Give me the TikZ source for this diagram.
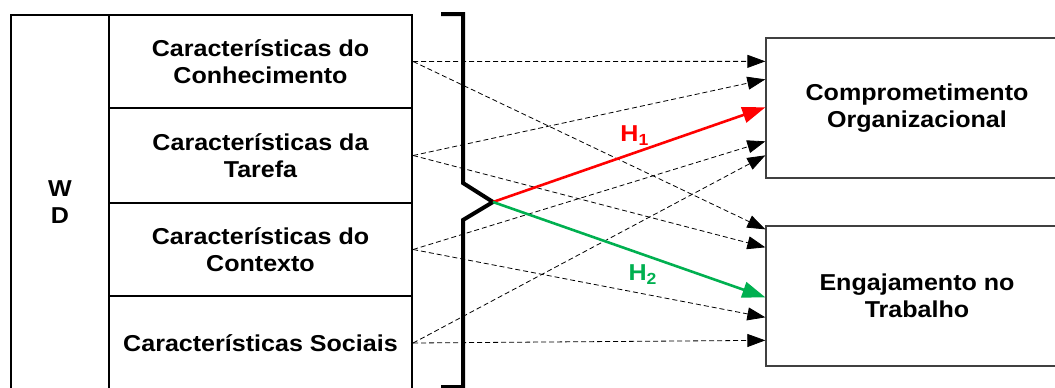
\documentclass[tikz,border=0pt]{standalone}
\usepackage{fontspec}
\setmainfont{Liberation Sans}[FakeStretch=1.09]
\usetikzlibrary{arrows.meta,calc}
\definecolor{hgreen}{RGB}{0,176,80}
\begin{document}
\begin{tikzpicture}[x=1pt,y=-1pt,
  txt/.style={font=\bfseries\fontsize{23}{27}\selectfont, align=center},
  rowbox/.style={draw, line width=2.2pt, minimum width=303pt, inner sep=0pt, txt},
  outbox/.style={draw=black!75, line width=1.3pt, minimum width=302pt, minimum height=140pt, inner sep=0pt, txt},
  dashlink/.style={dashed, dash pattern=on 5pt off 3pt, line width=0.8pt, -{Triangle[length=18pt,width=13pt]}},
  hyp/.style={line width=2.6pt, -{Triangle[length=23pt,width=16pt]}}
]
\useasboundingbox (0,0) rectangle (1055,388);
\clip (0,0) rectangle (1055,388);
% left structure
\node[draw, line width=2.2pt, minimum width=98pt, minimum height=375pt, inner sep=0pt, txt] (wd) at (60,202.5) {W\\D};
\node[rowbox, minimum height=93pt] (r1) at (260.5,61.5) {Características do\\Conhecimento};
\node[rowbox, minimum height=95pt] (r2) at (260.5,155.5) {Características da\\Tarefa};
\node[rowbox, minimum height=93pt] (r3) at (260.5,249.5) {Características do\\Contexto};
\node[rowbox, minimum height=94pt] (r4) at (260.5,343) {Características Sociais};
% bracket
\coordinate (tip) at (493,202);
\draw[line width=4pt, line join=miter] (441,14) -- (463,14) -- (463,183) -- (tip) -- (463,220) -- (463,387) -- (441,387);
% outcome boxes
\node[outbox] (b1) at (917,108) {Comprometimento\\Organizacional};
\node[outbox] (b2) at (917,296) {Engajamento no\\Trabalho};
% dashed connectors
\draw[dashlink] (r1.east) -- ($(b1.north west)+(0,24)$);
\draw[dashlink] (r1.east) -- ($(b2.north west)+(0,4)$);
\draw[dashlink] (r2.east) -- ($(b1.north west)+(0,42)$);
\draw[dashlink] (r2.east) -- ($(b2.north west)+(0,22)$);
\draw[dashlink] (r3.east) -- ($(b1.north west)+(0,104)$);
\draw[dashlink] (r3.east) -- ($(b2.north west)+(0,92)$);
\draw[dashlink] (r4.east) -- ($(b1.north west)+(0,118)$);
\draw[dashlink] (r4.east) -- ($(b2.north west)+(0,115)$);
% hypotheses
\draw[hyp, red] (tip) -- ($(b1.north west)+(0,70)$) node[pos=0.52, above=3pt, txt, text=red] (h1) {H\textsubscript{1}};
\draw[hyp, hgreen] (tip) -- ($(b2.north west)+(0,72)$) node[pos=0.55, below=6pt, txt, text=hgreen] (h2) {H\textsubscript{2}};
\end{tikzpicture}
\end{document}
